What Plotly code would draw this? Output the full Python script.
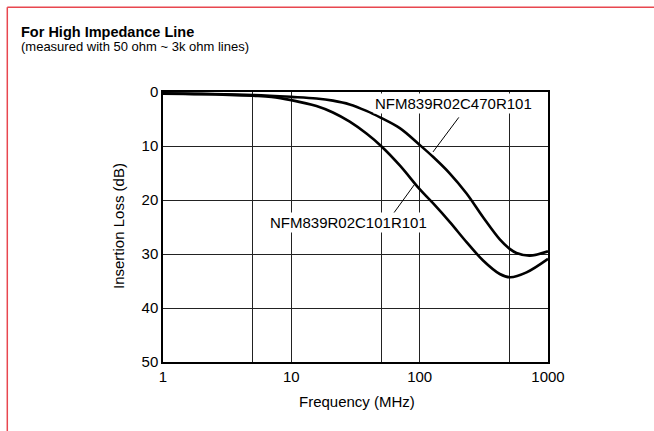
import plotly.graph_objects as go

# Data
freq_c101 = [1, 2, 5, 7, 10, 15.7, 21.1, 28.5, 38.5, 50, 70, 100, 127, 172, 232, 312, 421, 508, 680, 1000]
loss_c101 = [0.3, 0.4, 0.7, 0.9, 1.5, 2.6, 3.8, 5.5, 7.7, 10.0, 13.6, 18.0, 20.6, 24.1, 27.8, 31.2, 33.7, 34.3, 33.4, 30.9]

freq_c470 = [1, 2, 5, 10, 15.7, 21.1, 28.5, 38.5, 50, 70, 100, 127, 172, 232, 312, 421, 500, 568, 721, 1000]
loss_c470 = [0.25, 0.35, 0.55, 0.9, 1.2, 1.6, 2.3, 3.5, 4.8, 6.7, 9.8, 12.0, 15.1, 18.8, 23.2, 27.3, 29.0, 29.8, 30.3, 29.5]

leader_c470_x = [201.8, 127.0]
leader_c470_y = [4.7, 11.1]
leader_c101_x = [58.2, 91.3]
leader_c101_y = [23.5, 17.1]

x_tickvals = [1, 5, 10, 50, 100, 500, 1000]
x_ticktext = ["1", "", "10", "", "100", "", "1000"]
y_tickvals = [0, 10, 20, 30, 40, 50]

FONT = "Liberation Sans, Arial, Helvetica, sans-serif"

W, H = 654, 431
L, R, T, B = 163, 106, 92, 69
pw, ph = W - L - R, H - T - B


def px(x):
    return (x - L) / pw


def py(y):
    return (H - B - y) / ph


fig = go.Figure()
fig.add_trace(go.Scatter(x=freq_c470, y=loss_c470, mode="lines",
                         line=dict(color="black", width=2.6, shape="spline", smoothing=1.0),
                         name="NFM839R02C470R101", hoverinfo="skip"))
fig.add_trace(go.Scatter(x=freq_c101, y=loss_c101, mode="lines",
                         line=dict(color="black", width=2.6, shape="spline", smoothing=1.0),
                         name="NFM839R02C101R101", hoverinfo="skip"))
fig.add_trace(go.Scatter(x=leader_c470_x, y=leader_c470_y, mode="lines",
                         line=dict(color="black", width=1), hoverinfo="skip"))
fig.add_trace(go.Scatter(x=leader_c101_x, y=leader_c101_y, mode="lines",
                         line=dict(color="black", width=1), hoverinfo="skip"))

annotations = [
    dict(text="NFM839R02C470R101", x=1.637, y=2.2, xref="x", yref="y",
         xanchor="left", yanchor="middle", showarrow=False,
         font=dict(family=FONT, size=15, color="black"), bgcolor="white"),
    dict(text="NFM839R02C101R101", x=0.818, y=24.1, xref="x", yref="y",
         xanchor="left", yanchor="middle", showarrow=False,
         font=dict(family=FONT, size=15, color="black"), bgcolor="white"),
    dict(text="<b>For High Impedance Line</b>", x=px(19), y=py(32), xref="paper", yref="paper",
         xanchor="left", yanchor="middle", showarrow=False,
         font=dict(family=FONT, size=14.5, color="black")),
    dict(text="(measured with 50 ohm ~ 3k ohm lines)", x=px(19), y=py(47), xref="paper", yref="paper",
         xanchor="left", yanchor="middle", showarrow=False,
         font=dict(family=FONT, size=13, color="black")),
    dict(text="Frequency (MHz)", x=px(357), y=py(401), xref="paper", yref="paper",
         xanchor="center", yanchor="middle", showarrow=False,
         font=dict(family=FONT, size=15, color="black")),
    dict(text="Insertion Loss (dB)", x=px(118), y=py(226), xref="paper", yref="paper",
         xanchor="center", yanchor="middle", showarrow=False, textangle=-90,
         font=dict(family=FONT, size=15, color="black")),
]

shapes = [
    dict(type="line", xref="paper", yref="paper", x0=px(7.3), y0=py(7.3), x1=px(660), y1=py(7.3),
         line=dict(color="#e8474f", width=1.5)),
    dict(type="line", xref="paper", yref="paper", x0=px(7.3), y0=py(7.3), x1=px(7.3), y1=py(440),
         line=dict(color="#e8474f", width=1.5)),
]

fig.update_layout(
    width=W, height=H,
    margin=dict(l=L, r=R, t=T, b=B),
    paper_bgcolor="white", plot_bgcolor="white",
    showlegend=False,
    annotations=annotations,
    shapes=shapes,
    font=dict(family=FONT, size=15, color="black"),
)
fig.update_xaxes(type="log", range=[0, 3], tickvals=x_tickvals, ticktext=x_ticktext,
                 showgrid=True, gridcolor="#222", gridwidth=1,
                 showline=True, linecolor="black", linewidth=1.5, mirror=True,
                 ticks="", zeroline=False, tickfont=dict(family=FONT, size=15, color="black"))
fig.update_yaxes(range=[50, 0], tickvals=y_tickvals,
                 showgrid=True, gridcolor="#222", gridwidth=1,
                 showline=True, linecolor="black", linewidth=1.5, mirror=True,
                 ticks="", zeroline=False, tickfont=dict(family=FONT, size=15, color="black"))

fig.write_html("out.html", config={"displayModeBar": False},
               post_script="document.body.style.margin='0px';")
